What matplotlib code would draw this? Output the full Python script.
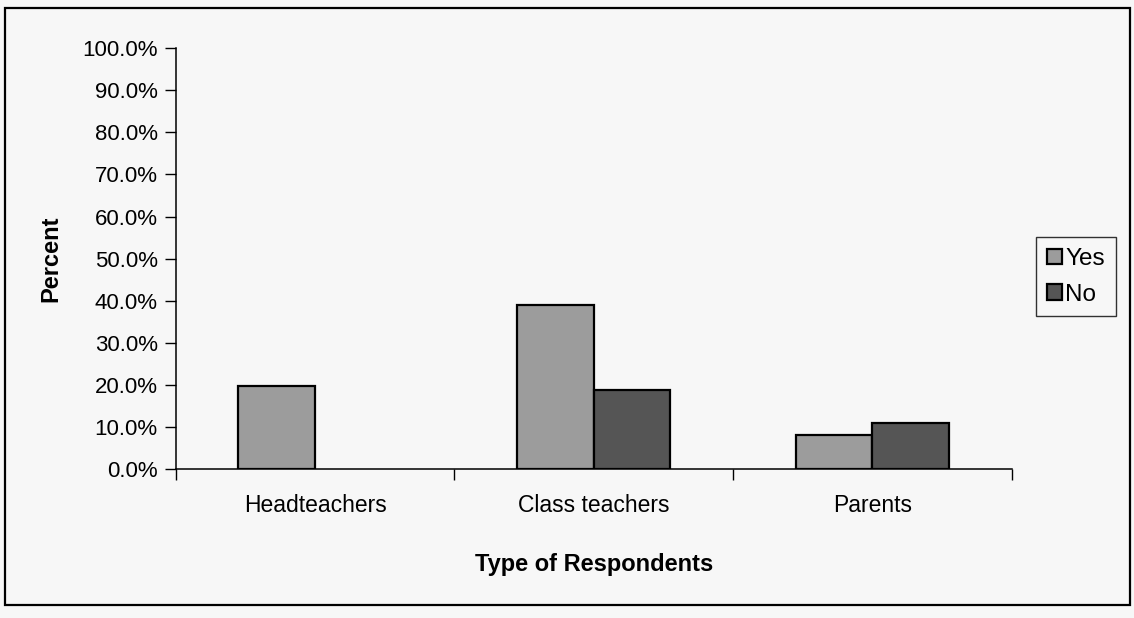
import numpy as np
import matplotlib
matplotlib.use("Agg")
import matplotlib.pyplot as plt
from matplotlib.patches import Rectangle
from matplotlib.ticker import FixedLocator, PercentFormatter

# values (percent)
categories = ["Headteachers", "Class teachers", "Parents"]
yes_pct = [19.7, 39.0, 8.2]
no_pct = [0.0, 18.9, 10.9]
y_ticks = np.arange(0, 101, 10)

plt.rcParams['font.family'] = ['Liberation Sans', 'DejaVu Sans']

fig = plt.figure(figsize=(11.34, 6.18), dpi=100)
fig.patch.set_facecolor('#f7f7f7')
ax = fig.add_axes([0.155, 0.241, 0.737, 0.681])
ax.set_facecolor('none')

x = np.arange(len(categories))
w = 0.275
yes_bars = ax.bar(x - w / 2, yes_pct, w, color='#9c9c9c', edgecolor='black', linewidth=1.6, label='Yes')
no_bars = ax.bar(x + w / 2, no_pct, w, color='#555555', edgecolor='black', linewidth=1.6, label='No')

ax.set_xlim(-0.5, len(categories) - 0.5)
ax.set_ylim(0, 100)
ax.set_yticks(y_ticks)
ax.yaxis.set_major_formatter(PercentFormatter(decimals=1))
ax.tick_params(axis='y', direction='out', length=8, width=1, pad=5, labelsize=16)

ax.set_xticks(x)
ax.set_xticklabels(categories)
ax.tick_params(axis='x', which='major', length=0, pad=18, labelsize=16.5)
ax.xaxis.set_minor_locator(FixedLocator(np.arange(-0.5, len(categories), 1.0)))
ax.tick_params(axis='x', which='minor', direction='out', length=8, width=1)

for s in ['top', 'right']:
    ax.spines[s].set_visible(False)
for s in ['left', 'bottom']:
    ax.spines[s].set_linewidth(1.1)

ax.set_xlabel('Type of Respondents', fontsize=17, fontweight='bold', labelpad=26)
ax.set_ylabel('Percent', fontsize=17, fontweight='bold', labelpad=14)

leg = ax.legend(loc='center left', bbox_to_anchor=(0.9136, 0.552),
                bbox_transform=fig.transFigure, fontsize=17.5, frameon=True,
                fancybox=False, handlelength=0.6, handleheight=0.6,
                handletextpad=0.15, borderpad=0.45, labelspacing=0.55,
                borderaxespad=0)
leg.get_frame().set_edgecolor('black')
leg.get_frame().set_linewidth(1.0)
leg.get_frame().set_facecolor('none')

# Excel draws nothing for a zero-height bar (done after the legend is built)
for b in list(yes_bars) + list(no_bars):
    if b.get_height() == 0:
        b.set_visible(False)

# outer chart border
fig.patches.append(Rectangle((5 / 1134, 1 - 605 / 618), 1125 / 1134, 597 / 618,
                             transform=fig.transFigure, fill=False,
                             edgecolor='black', linewidth=1.6))

fig.savefig('out.png', dpi=100, facecolor=fig.get_facecolor())
